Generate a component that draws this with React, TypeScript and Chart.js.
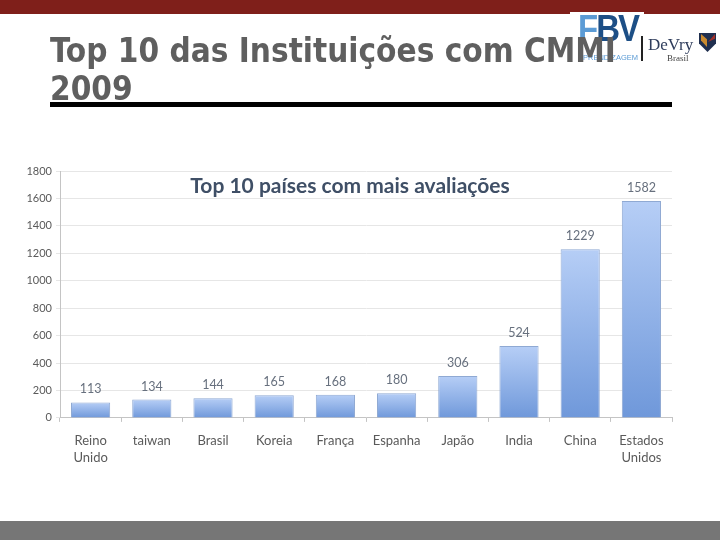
import React, { useEffect, useRef } from 'react';
import Chart from 'chart.js/auto';

const countries = [
  ['Reino', 'Unido'],
  'taiwan',
  'Brasil',
  'Koreia',
  'França',
  'Espanha',
  'Japão',
  'India',
  'China',
  ['Estados', 'Unidos'],
];
const appraisals = [113, 134, 144, 165, 168, 180, 306, 524, 1229, 1582];

const slideTitle = ['Top 10 das Instituições com CMMI', '2009'];
const chartTitle = 'Top 10 países com mais avaliações';

// value labels above the bars and the inner chart title
const labelsPlugin = {
  id: 'barLabels',
  afterDatasetsDraw(chart: any) {
    const { ctx } = chart;
    const bars = chart.getDatasetMeta(0).data;
    ctx.save();
    ctx.textAlign = 'center';
    ctx.textBaseline = 'middle';
    ctx.fillStyle = '#67707e';
    ctx.font = '12.5px Lato';
    bars.forEach((bar: any, i: number) => {
      ctx.fillText(String(appraisals[i]), bar.x, bar.y - 13);
    });
    ctx.fillStyle = '#3f4f66';
    ctx.font = 'bold 21px Lato';
    ctx.fillText(chartTitle, 350, 186);
    ctx.restore();
  },
};

const App: React.FC = () => {
  const chartRef = useRef<HTMLCanvasElement>(null);

  useEffect(() => {
    if (!chartRef.current) return;
    const chart = new Chart(chartRef.current, {
      type: 'bar',
      data: {
        labels: countries as any,
        datasets: [
          {
            data: appraisals,
            borderColor: '#8fa9d3',
            borderWidth: 1,
            barPercentage: 0.64,
            categoryPercentage: 1,
            backgroundColor: (c: any) => {
              const y = c.chart.scales.y;
              const value = appraisals[c.dataIndex];
              const top = y ? y.getPixelForValue(value) : NaN;
              const base = y ? y.getPixelForValue(0) : NaN;
              if (!Number.isFinite(top) || !Number.isFinite(base)) return '#9dbbec';
              const g = c.chart.ctx.createLinearGradient(0, top, 0, base);
              g.addColorStop(0, '#b6cef6');
              g.addColorStop(1, '#6f98da');
              return g;
            },
          },
        ],
      },
      options: {
        responsive: false,
        animation: false,
        layout: { padding: { left: 0, right: 48, top: 171, bottom: 63 } },
        plugins: { legend: { display: false }, tooltip: { enabled: false } },
        scales: {
          x: {
            grid: { drawOnChartArea: false, color: '#c4c4c4', tickLength: 4 },
            border: { color: '#c4c4c4' },
            ticks: { color: '#5a5a5a', font: { family: 'Lato', size: 13, lineHeight: 1.35 }, padding: 10, maxRotation: 0 },
          },
          y: {
            min: 0,
            max: 1800,
            afterFit: (axis: any) => {
              axis.width = 60;
            },
            grid: { color: '#e6e6e6', tickLength: 4 },
            border: { color: '#c4c4c4' },
            ticks: {
              stepSize: 200,
              color: '#5a5a5a',
              font: { family: 'Lato', size: 11 },
              padding: 4,
              callback: (v: any) => String(v),
            },
          },
        },
      },
      plugins: [labelsPlugin],
    });
    return () => chart.destroy();
  }, []);

  return (
    <div style={{ position: 'fixed', left: 0, top: 0, width: 720, height: 540, background: '#fff', overflow: 'hidden' }}>
      <canvas ref={chartRef} width={720} height={540} style={{ position: 'absolute', left: 0, top: 0, filter: 'blur(0.4px)' }} />
      <div style={{ position: 'absolute', left: 0, top: 0, width: 720, height: 14, background: '#7f1f1a' }} />
      <div style={{ position: 'absolute', left: 0, top: 521, width: 720, height: 19, background: '#767676' }} />
      <div style={{ position: 'absolute', left: 570, top: 12, width: 74, height: 50, background: '#fff' }} />
      <div style={{ position: 'absolute', left: 578, top: 9, fontFamily: 'Liberation Sans', fontWeight: 'bold', fontSize: 33, letterSpacing: -2, color: '#1d4f86', lineHeight: '40px', whiteSpace: 'nowrap', transform: 'scaleY(1.1)' }}>
        <span style={{ color: '#5b9bd5' }}>F</span>BV
      </div>
      <div style={{ position: 'absolute', left: 578, top: 53, fontFamily: 'Liberation Sans', fontSize: 7.5, color: '#5b9bd5', whiteSpace: 'nowrap' }}>APRENDIZAGEM</div>
      <div style={{ position: 'absolute', left: 50, top: 32, fontFamily: '"DejaVu Sans Condensed", "DejaVu Sans"', fontWeight: 'bold', fontSize: 33, lineHeight: '38px', color: '#5f5f5f', whiteSpace: 'nowrap' }}>
        {slideTitle.map((line) => (
          <div key={line}>{line}</div>
        ))}
      </div>
      <div style={{ position: 'absolute', left: 50, top: 102, width: 622, height: 5, background: '#000' }} />
      <div style={{ position: 'absolute', left: 641, top: 36, width: 2, height: 25, background: '#222' }} />
      <div style={{ position: 'absolute', left: 648, top: 35, fontFamily: 'Liberation Serif', fontSize: 17, color: '#2f3d5c', whiteSpace: 'nowrap' }}>DeVry</div>
      <div style={{ position: 'absolute', left: 667, top: 53, fontFamily: 'Liberation Serif', fontSize: 9, color: '#444', whiteSpace: 'nowrap' }}>Brasil</div>
      <div style={{ position: 'absolute', left: 699, top: 33, width: 17, height: 19, background: '#1f2f4f', clipPath: 'polygon(0 0, 100% 0, 100% 55%, 50% 100%, 0 55%)' }} />
      <div style={{ position: 'absolute', left: 701, top: 34, width: 6, height: 13, background: '#c98a2f', clipPath: 'polygon(0 0, 100% 40%, 100% 100%, 0 50%)' }} />
      <div style={{ position: 'absolute', left: 708, top: 34, width: 7, height: 8, background: '#a3312a', clipPath: 'polygon(0 100%, 100% 0, 100% 60%, 0 100%)' }} />
    </div>
  );
};

export default App;
